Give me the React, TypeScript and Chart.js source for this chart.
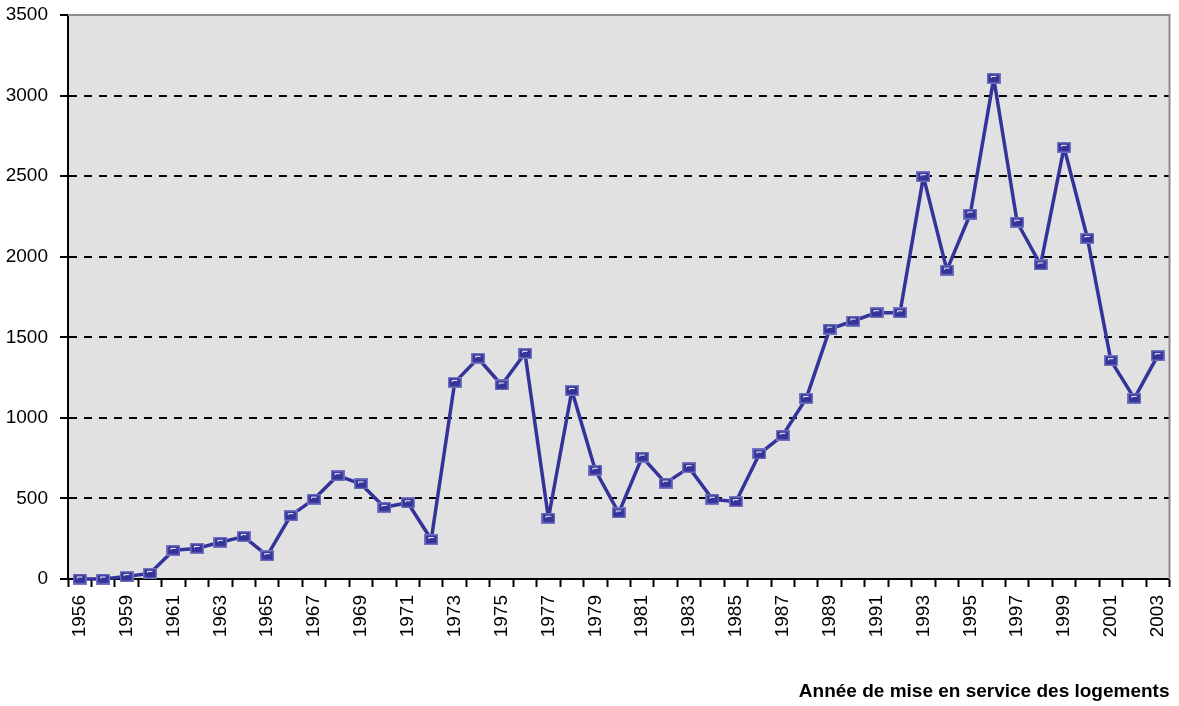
import React, { useEffect, useRef } from "react";
import { Chart, registerables } from "chart.js";

Chart.register(...registerables);

const years: string[] = [
  "1956", "1958", "1959", "1960", "1961", "1962", "1963", "1964", "1965", "1966",
  "1967", "1968", "1969", "1970", "1971", "1972", "1973", "1974", "1975", "1976",
  "1977", "1978", "1979", "1980", "1981", "1982", "1983", "1984", "1985", "1986",
  "1987", "1988", "1989", "1990", "1991", "1992", "1993", "1994", "1995", "1996",
  "1997", "1998", "1999", "2000", "2001", "2002", "2003",
];

const logements: number[] = [
  0, 0, 15, 35, 178, 190, 228, 263, 145, 393,
  496, 641, 590, 445, 473, 245, 1220, 1370, 1204, 1401,
  377, 1170, 675, 410, 757, 595, 691, 495, 480, 776,
  892, 1121, 1551, 1601, 1653, 1652, 2497, 1917, 2265, 3107,
  2214, 1949, 2679, 2114, 1355, 1121, 1386,
];

const yMax = 3500;
const yStep = 500;
const xTitle = "Année de mise en service des logements";

const FONT = "'Liberation Sans', Arial, sans-serif";

function makeMarker(): HTMLCanvasElement {
  const c = document.createElement("canvas");
  c.width = 14;
  c.height = 11;
  const g = c.getContext("2d")!;
  g.fillStyle = "#7373bf";
  g.fillRect(0, 0, 14, 11);
  g.fillStyle = "#333399";
  g.fillRect(1.5, 1.5, 11, 8);
  g.strokeStyle = "#ffffff";
  g.lineWidth = 1;
  g.beginPath();
  g.moveTo(4.5, 5);
  g.lineTo(4.5, 3.5);
  g.lineTo(9.5, 3.5);
  g.stroke();
  return c;
}

const plotBg = {
  id: "plotBg",
  beforeDraw(chart: any) {
    const { ctx, chartArea } = chart;
    if (!chartArea) return;
    ctx.save();
    ctx.fillStyle = "#e1e1e1";
    ctx.fillRect(chartArea.left, chartArea.top, chartArea.right - chartArea.left, chartArea.bottom - chartArea.top);
    ctx.restore();
  },
  beforeDatasetsDraw(chart: any) {
    const { ctx, chartArea } = chart;
    ctx.save();
    ctx.strokeStyle = "#8c8c8c";
    ctx.lineWidth = 2;
    ctx.beginPath();
    ctx.moveTo(chartArea.left, chartArea.top);
    ctx.lineTo(chartArea.right, chartArea.top);
    ctx.lineTo(chartArea.right, chartArea.bottom);
    ctx.stroke();
    ctx.restore();
  },
};

export default function App() {
  const ref = useRef<HTMLCanvasElement | null>(null);

  useEffect(() => {
    document.body.style.margin = "0";
    const canvas = ref.current;
    if (!canvas) return;
    const marker = makeMarker();
    const chart = new Chart(canvas, {
      type: "line",
      data: {
        labels: years,
        datasets: [
          {
            data: logements,
            borderColor: "#333399",
            borderWidth: 3.5,
            borderJoinStyle: "round",
            pointStyle: marker as any,
            pointRadius: 6,
            pointHoverRadius: 6,
            tension: 0,
            clip: false as any,
          },
        ],
      },
      options: {
        animation: false,
        responsive: false,
        layout: { padding: { top: 15, right: 9, left: 0, bottom: 0 } },
        plugins: {
          legend: { display: false },
          tooltip: { enabled: false },
          title: { display: false },
        },
        scales: {
          x: {
            type: "category",
            offset: true,
            grid: {
              display: true,
              offset: true,
              drawOnChartArea: false,
              drawTicks: true,
              tickLength: 8,
              tickColor: "#000",
              tickWidth: 2,
            },
            border: { display: true, color: "#000", width: 2 },
            ticks: {
              autoSkip: false,
              maxRotation: 90,
              minRotation: 90,
              padding: 8,
              color: "#000",
              font: { family: FONT, size: 19 },
              callback: (_v: any, i: number) => (i % 2 === 0 ? years[i] : ""),
            },
            title: {
              display: true,
              text: xTitle,
              align: "end",
              color: "#000",
              font: { family: FONT, size: 19, weight: "bold", lineHeight: 1.2 },
              padding: { top: 0, bottom: 3 },
            },
            afterFit: (s: any) => {
              s.height = 127;
              s.paddingLeft = 0;
              s.paddingRight = 0;
            },
          },
          y: {
            min: 0,
            max: yMax,
            ticks: {
              stepSize: yStep,
              padding: 12,
              color: "#000",
              font: { family: FONT, size: 19 },
              callback: (v: any) => String(v),
            },
            grid: {
              color: (c: any) =>
                c.tick && (c.tick.value === 0 || c.tick.value === yMax) ? "rgba(0,0,0,0)" : "#000",
              lineWidth: 2,
              tickBorderDash: [],
              tickColor: "#000",
              tickWidth: 2,
              tickLength: 8,
            } as any,
            border: { display: true, color: "#000", width: 2, dash: [8, 7] },
            afterFit: (s: any) => {
              s.width = 68;
              s.paddingTop = 0;
              s.paddingBottom = 0;
            },
          },
        },
      },
      plugins: [plotBg],
    });
    return () => chart.destroy();
  }, []);

  return (
    <div style={{ width: 1179, height: 706, background: "#fff" }}>
      <canvas ref={ref} width={1179} height={706} style={{ display: "block" }} />
    </div>
  );
}
